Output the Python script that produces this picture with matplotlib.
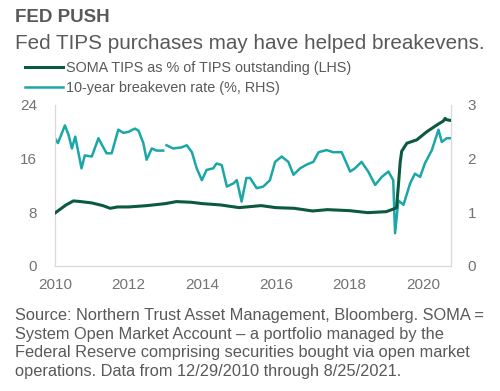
import numpy as np
import matplotlib
matplotlib.use("Agg")
import matplotlib.pyplot as plt
from matplotlib.lines import Line2D

plt.rcParams['font.family'] = ['Liberation Sans', 'DejaVu Sans']

# SOMA TIPS as % of TIPS outstanding (left axis)
soma_x = [2010.0, 2010.15, 2010.3, 2010.5, 2010.7, 2011.0, 2011.3, 2011.5, 2011.7,
          2012.0, 2012.5, 2013.0, 2013.3, 2013.7, 2014.0, 2014.5, 2015.0, 2015.3,
          2015.6, 2016.0, 2016.5, 2017.0, 2017.4, 2018.0, 2018.5, 2019.0, 2019.2,
          2019.28, 2019.33, 2019.38, 2019.42, 2019.56, 2019.83, 2020.1, 2020.37,
          2020.55, 2020.6, 2020.64, 2020.75]
soma_y = [7.9, 8.5, 9.1, 9.7, 9.6, 9.4, 9.0, 8.6, 8.8,
          8.8, 9.0, 9.3, 9.6, 9.5, 9.3, 9.1, 8.7, 8.85,
          9.0, 8.7, 8.6, 8.2, 8.4, 8.25, 7.95, 8.1, 8.5,
          8.7, 12.0, 15.5, 17.1, 18.3, 18.8, 20.0, 21.0,
          21.6, 22.0, 21.8, 21.7]

# 10-year breakeven rate, % (right axis)
be_x = [2010.0, 2010.08, 2010.27, 2010.37, 2010.46, 2010.55, 2010.72, 2010.81, 2011.0,
        2011.18, 2011.4, 2011.54, 2011.72, 2011.86, 2012.0, 2012.17, 2012.27, 2012.4,
        2012.49, 2012.63, 2012.76, 2012.94, 2012.98, 2013.03, 2013.21, 2013.44, 2013.58,
        2013.72, 2013.85, 2013.99, 2014.12, 2014.3, 2014.39, 2014.53, 2014.67, 2014.85,
        2014.94, 2015.07, 2015.2, 2015.3, 2015.48, 2015.66, 2015.84, 2015.98, 2016.16,
        2016.34, 2016.48, 2016.66, 2016.84, 2017.02, 2017.16, 2017.38, 2017.56, 2017.79,
        2018.02, 2018.15, 2018.33, 2018.51, 2018.7, 2018.88, 2019.06, 2019.19, 2019.24,
        2019.33, 2019.47, 2019.65, 2019.78, 2019.92, 2020.05, 2020.24, 2020.42, 2020.51,
        2020.64, 2020.73]
be_y = [2.38, 2.29, 2.62, 2.44, 2.19, 2.41, 1.82, 2.06, 2.04,
        2.38, 2.1, 2.1, 2.54, 2.48, 2.5, 2.56, 2.52, 2.29,
        1.98, 2.19, 2.15, 2.15, np.nan, 2.25, 2.19, 2.21, 2.25,
        2.12, 1.82, 1.6, 1.79, 1.82, 1.91, 1.88, 1.48, 1.54,
        1.6, 1.2, 1.64, 1.64, 1.45, 1.48, 1.6, 1.94, 2.04,
        1.94, 1.7, 1.82, 1.89, 1.94, 2.12, 2.16, 2.12, 2.12,
        1.76, 1.82, 1.94, 1.76, 1.51, 1.66, 1.76, 1.6, 0.61,
        1.22, 1.14, 1.54, 1.72, 1.66, 1.91, 2.16, 2.54, 2.31,
        2.38, 2.38]

left_ticks = [0, 8, 16, 24]
right_ticks = [0, 1, 2, 3]
year_ticks = [2010, 2012, 2014, 2016, 2018, 2020]

dark = '#0b5a3e'
teal = '#1ba6a8'
grey_txt = '#595959'
tick_txt = '#737373'
spine_c = '#d9d9d9'

fig = plt.figure(figsize=(5, 3.91), dpi=100)
ax = fig.add_axes([0.11, 0.3197, 0.792, 0.4118])
ax2 = ax.twinx()

ax.plot(soma_x, soma_y, color=dark, lw=2.2, zorder=3)
ax2.plot(be_x, be_y, color=teal, lw=1.8)
ax.set_zorder(ax2.get_zorder() + 1)
ax.patch.set_visible(False)

ax.set_xlim(2010, 2020.76)
ax.set_ylim(0, 24)
ax2.set_ylim(0, 3)
ax.set_yticks(left_ticks)
ax2.set_yticks(right_ticks)
ax.set_xticks(year_ticks)

for a in (ax, ax2):
    for s in a.spines.values():
        s.set_color(spine_c)
    a.spines['top'].set_visible(False)
    a.tick_params(length=0, labelsize=11, colors=tick_txt)
ax.tick_params(axis='y', pad=13)
ax.tick_params(axis='x', pad=9)
ax2.tick_params(axis='y', pad=12)

fig.text(0.03, 0.955, 'FED PUSH', fontsize=13.5, fontweight='bold',
         color=grey_txt, va='center')
fig.text(0.03, 0.888, 'Fed TIPS purchases may have helped breakevens.',
         fontsize=14.9, color=grey_txt, va='center')

handles = [Line2D([], [], color=dark, lw=2.2), Line2D([], [], color=teal, lw=1.8)]
fig.legend(handles, ['SOMA TIPS as % of TIPS outstanding (LHS)',
                     '10-year breakeven rate (%, RHS)'],
           loc='upper left', bbox_to_anchor=(0.05, 0.845), frameon=False,
           fontsize=10.4, handlelength=2.6, handletextpad=0.25,
           labelspacing=0.45, borderpad=0, borderaxespad=0, labelcolor=grey_txt)

fig.text(0.03, 0.212,
         'Source: Northern Trust Asset Management, Bloomberg. SOMA =\n'
         'System Open Market Account \u2013 a portfolio managed by the\n'
         'Federal Reserve comprising securities bought via open market\n'
         'operations. Data from 12/29/2010 through 8/25/2021.',
         fontsize=11.8, color=grey_txt, va='top', linespacing=1.3)

fig.savefig('out.png', dpi=100)
